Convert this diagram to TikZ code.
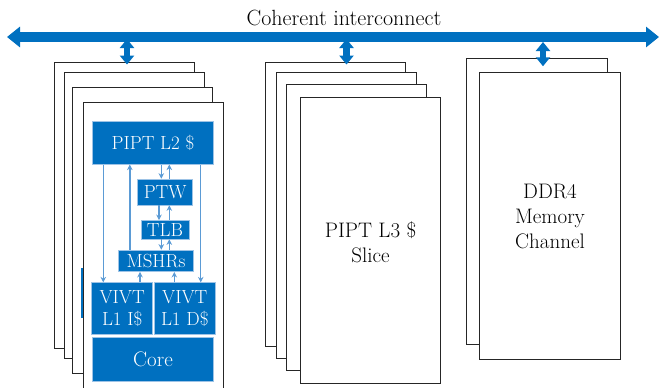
\documentclass[tikz,border=0pt]{standalone}
\usepackage{fontspec}
\newfontfamily\tnr{Latin Modern Roman}
\usetikzlibrary{arrows.meta}
\definecolor{dblue}{HTML}{0070C0}
\definecolor{lblue}{HTML}{5B9BD5}

\begin{document}
\begin{tikzpicture}[x=1pt,y=-1pt,
  font=\tnr,
  card/.style={draw=black!85, line width=0.9pt, fill=white,
    minimum width=140pt, minimum height=286pt, inner sep=0pt},
  blk/.style={fill=dblue, draw=lblue!60!white, line width=0.6pt, text=white,
    inner sep=0pt, align=center, font=\tnr\fontsize{19}{21.7}\selectfont},
  link/.style={lblue, line width=1.4pt, -{Stealth[length=5.5pt,width=5.5pt]}},
  port/.style={dblue, line width=6.5pt,
    {Triangle[length=9pt,width=14pt]}-{Triangle[length=9pt,width=14pt]}},
  bus/.style={dblue, line width=10pt,
    {Triangle[length=13pt,width=20pt]}-{Triangle[length=13pt,width=20pt]}},
  cardtext/.style={align=center, inner sep=0pt, font=\tnr\fontsize{21}{25}\selectfont}
]
\useasboundingbox (0,0) rectangle (659,388);
\clip (0,0) rectangle (659,388);

% interconnect bus and its title
\coordinate (busL) at (7,37);
\coordinate (busR) at (659,37);
\draw[bus] (busL) -- (busR);
\node[font=\tnr\fontsize{22}{26}\selectfont, anchor=base, inner sep=0pt] (title) at (344,25) {Coherent interconnect};

% core tiles
\node[card] (c1) at (124.15,205.3) {};
\node[card] (c2) at (134.15,215.8) {};
\node[card] (c3) at (142.15,230.5) {};
\node[card, minimum height=296pt] (c4) at (153.15,250.7) {};
\draw[dblue, line width=1.5pt] (82.2,268) -- (82.2,318);

% L3 slices
\node[card, minimum height=284.4pt] (m1) at (335.3,204.5) {};
\node[card] (m2) at (346,215.8) {};
\node[card] (m3) at (356,227.5) {};
\node[card] (m4) at (370,240) {};
\node[cardtext] (l3txt) at (370.5,242) {PIPT L3 \$\\Slice};

% memory channels
\node[card, minimum width=141.3pt] (r1) at (536.65,201.3) {};
\node[card, minimum width=141.3pt, minimum height=287pt] (r2) at (550,215.8) {};
\node[cardtext] (ddrtxt) at (550,216) {DDR4\\Memory\\Channel};

% bus ports
\coordinate (p1) at (127,39);
\coordinate (p2) at (346.5,39);
\coordinate (p3) at (543,42);
\draw[port, shorten >=-2.7pt] (p1) -- (p1 |- c1.north);
\draw[port, shorten >=-2.7pt] (p2) -- (p2 |- m1.north);
\draw[port, shorten >=-8.4pt] (p3) -- (p3 |- r1.north);

% blocks inside the front core tile
\node[blk, minimum width=121.4pt, minimum height=42.6pt] (l2) at (153,143) {PIPT L2 \$};
\node[blk, minimum width=55pt, minimum height=26pt] (ptw) at (165.2,192) {PTW};
\node[blk, minimum width=48pt, minimum height=18.7pt] (tlb) at (165,229.7) {TLB};
\node[blk, minimum width=75.4pt, minimum height=21.7pt] (mshr) at (156,260.8) {MSHRs};
\node[blk, minimum width=61pt, minimum height=51.3pt] (l1i) at (122.2,308.3) {VIVT\\L1 I\$};
\node[blk, minimum width=61.7pt, minimum height=51.3pt] (l1d) at (184.8,308.3) {VIVT\\L1 D\$};
\node[blk, minimum width=121.4pt, minimum height=44.4pt, font=\tnr\fontsize{21}{25}\selectfont] (core) at (153,359.5) {Core};

% request / response paths
\coordinate (xa) at (103.3,0);
\coordinate (xb) at (129.8,0);
\coordinate (xc) at (161.3,0);
\coordinate (xd) at (169.3,0);
\coordinate (xe) at (159,0);
\coordinate (xi) at (140,0);
\coordinate (xj) at (174.3,0);
\coordinate (xk) at (200.7,0);
\draw[link] (l2.south -| xa) -- (l1i.north -| xa);
\draw[link] (mshr.north -| xb) -- (l2.south -| xb);
\draw[link] (l2.south -| xc) -- (ptw.north -| xc);
\draw[link] (ptw.north -| xd) -- (l2.south -| xd);
\draw[link] (ptw.south -| xe) -- (tlb.north -| xe);
\draw[link] (tlb.north -| xd) -- (ptw.south -| xd);
\draw[link] (tlb.south -| xc) -- (mshr.north -| xc);
\draw[link] (mshr.north -| xd) -- (tlb.south -| xd);
\draw[link] (l1i.north -| xi) -- (mshr.south -| xi);
\draw[link] (l1d.north -| xj) -- (mshr.south -| xj);
\draw[link] (l2.south -| xk) -- (l1d.north -| xk);
\end{tikzpicture}
\end{document}
